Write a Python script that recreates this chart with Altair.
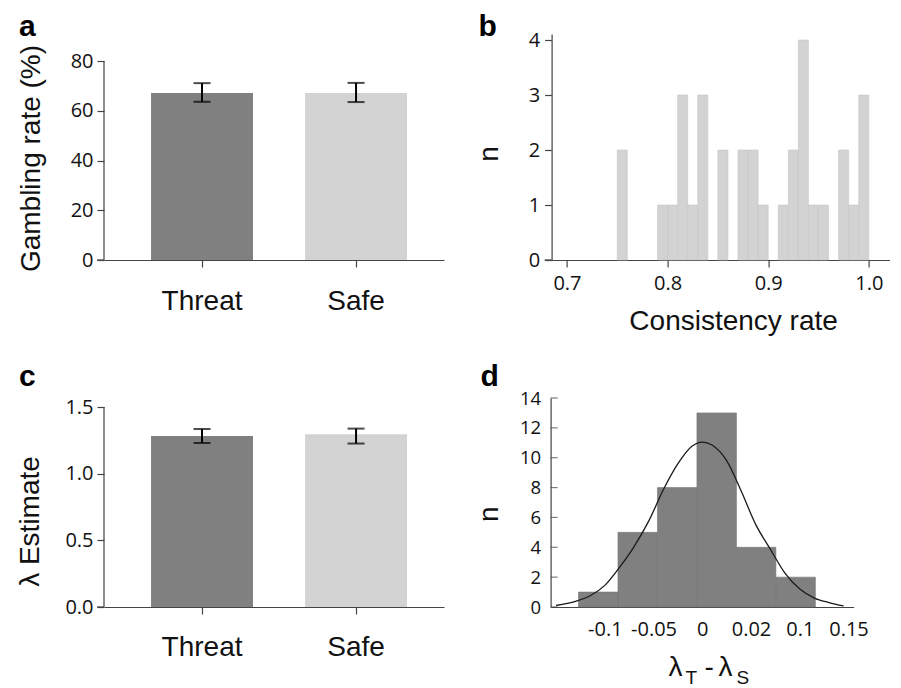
import altair as alt
import pandas as pd

# ---------------- data ----------------
CONDITIONS = ["Threat", "Safe"]
BAR_COLORS = ["#808080", "#d3d3d3"]

GAMBLE_MEAN = [67.1, 67.1]
GAMBLE_LOW = [63.6, 63.5]
GAMBLE_HIGH = [71.1, 71.2]
GAMBLE_TICKS = [0, 20, 40, 60, 80]

LAMBDA_MEAN = [1.283, 1.295]
LAMBDA_LOW = [1.230, 1.226]
LAMBDA_HIGH = [1.335, 1.338]
LAMBDA_TICKS = [0.0, 0.5, 1.0, 1.5]

CONS_BIN_START = [0.75, 0.79, 0.80, 0.81, 0.82, 0.83, 0.85, 0.87, 0.88,
                  0.89, 0.91, 0.92, 0.93, 0.94, 0.95, 0.97, 0.98, 0.99]
CONS_BIN_END = [0.76, 0.80, 0.81, 0.82, 0.83, 0.84, 0.86, 0.88, 0.89,
                0.90, 0.92, 0.93, 0.94, 0.95, 0.96, 0.98, 0.99, 1.00]
CONS_COUNT = [2, 1, 1, 3, 1, 3, 2, 2, 2, 1, 1, 2, 4, 1, 1, 2, 1, 3]
CONS_X_TICKS = [0.7, 0.8, 0.9, 1.0]
CONS_Y_TICKS = [0, 1, 2, 3, 4]

DIFF_BIN_START = [-0.127, -0.0865, -0.046, -0.0055, 0.035, 0.0755]
DIFF_BIN_END = [-0.0865, -0.046, -0.0055, 0.035, 0.0755, 0.116]
DIFF_COUNT = [1, 5, 8, 13, 4, 2]
CURVE_X = [-0.15, -0.13, -0.115, -0.10, -0.085, -0.07, -0.055, -0.04, -0.025,
           -0.01, 0.0, 0.01, 0.025, 0.04, 0.055, 0.07, 0.085, 0.10, 0.115,
           0.13, 0.145]
CURVE_N = [0.1, 0.38, 0.75, 1.45, 2.65, 4.05, 5.75, 7.85, 9.6, 10.8, 11.05,
           10.85, 9.8, 7.75, 5.5, 3.85, 2.25, 1.2, 0.6, 0.3, 0.07]
DIFF_X_TICKS = [-0.1, -0.05, 0.0, 0.05, 0.1, 0.15]
DIFF_X_LABELS = ["-0.1", "-0.05", "0", "0.02", "0.1", "0.15"]
DIFF_Y_TICKS = [0, 2, 4, 6, 8, 10, 12, 14]

PANEL_LABELS = ["a", "b", "c", "d"]

# ---------------- styling ----------------
FONT_TITLE = "Liberation Sans"
FONT_TICK = "Open Sans"
AX = "#444444"
INK = "#111111"


def panel_label(letter, x, y):
    return alt.Chart(pd.DataFrame({"t": [letter]})).mark_text(
        font=FONT_TITLE, fontSize=30, fontWeight="bold", align="left",
        baseline="alphabetic", color="black"
    ).encode(text="t:N", x=alt.value(x), y=alt.value(y))


def axis_stub(yscale):
    # short continuation of the x axis line under the y ticks
    return alt.Chart(pd.DataFrame({"z": [0]})).mark_rule(
        color=AX, strokeWidth=1.2).encode(
        x=alt.value(-7), x2=alt.value(0), y=alt.Y("z:Q", scale=yscale))


def bar_panel(means, lows, highs, ticks, dom_top, axis_top, fmt, title,
              title_x, title_y, letter, label_y, height, label_pad):
    df = pd.DataFrame({"condition": CONDITIONS, "mean": means,
                       "low": lows, "high": highs})
    base = alt.Chart(df)
    xscale = alt.Scale(domain=CONDITIONS, paddingInner=0.338,
                       paddingOuter=0.2727, align=0.56)
    yscale = alt.Scale(domain=[0, dom_top], nice=False, zero=True)
    xaxis = alt.Axis(title=None, labelAngle=0, labelFont=FONT_TITLE,
                     labelFontSize=28, labelPadding=label_pad, tickSize=7)
    yaxis = alt.Axis(values=ticks, domain=False, format=fmt,
                     title=title, titleX=title_x, titleY=title_y,
                     titleAngle=-90, titleAlign="center",
                     titleBaseline="alphabetic", labelPadding=4,
                     labelOverlap=False)
    xs = alt.X("condition:N", sort=CONDITIONS, scale=xscale, axis=xaxis)
    bars = base.mark_bar().encode(
        x=xs,
        y=alt.Y("mean:Q", scale=yscale, axis=yaxis),
        color=alt.Color("condition:N",
                        scale=alt.Scale(domain=CONDITIONS, range=BAR_COLORS),
                        legend=None),
    )
    err = base.mark_rule(color="black", strokeWidth=2).encode(
        x=xs, y=alt.Y("low:Q", scale=yscale, axis=yaxis), y2="high:Q")
    cap_lo = base.mark_tick(color="black", size=17, thickness=2,
                            orient="horizontal").encode(
        x=xs, y=alt.Y("low:Q", scale=yscale, axis=yaxis))
    cap_hi = base.mark_tick(color="black", size=17, thickness=2,
                            orient="horizontal").encode(
        x=xs, y=alt.Y("high:Q", scale=yscale, axis=yaxis))
    yline = alt.Chart(pd.DataFrame({"y0": [0], "y1": [axis_top]})).mark_rule(
        color=AX, strokeWidth=1.2).encode(
        x=alt.value(0), y=alt.Y("y0:Q", scale=yscale, axis=yaxis), y2="y1:Q")
    lab = panel_label(letter, -85, label_y)
    return alt.layer(bars, err, cap_lo, cap_hi, yline, axis_stub(yscale),
                     lab).properties(width=340, height=height)


# ---- panel a ----
A_HEIGHT = 226
panel_a = bar_panel(GAMBLE_MEAN, GAMBLE_LOW, GAMBLE_HIGH, GAMBLE_TICKS,
                    80 * A_HEIGHT / 199, 80, "d", "Gambling rate (%)", -65,
                    124, "a", 2, A_HEIGHT, 20)

# ---- panel c ----
C_HEIGHT = 209
panel_c = bar_panel(LAMBDA_MEAN, LAMBDA_LOW, LAMBDA_HIGH, LAMBDA_TICKS,
                    1.5 * C_HEIGHT / 200, 1.5, ".1f", "λ Estimate", -66, 123,
                    "c", -12.3, C_HEIGHT, 19)

# ---- panel b ----
dfb = pd.DataFrame({"start": CONS_BIN_START, "end": CONS_BIN_END,
                    "n": CONS_COUNT})
bscale_y = alt.Scale(domain=[0, A_HEIGHT / 55], nice=False)
hist_b = alt.Chart(dfb).mark_bar(color="#d3d3d3", stroke="#c6c6c6",
                                 strokeWidth=0.6, orient="vertical").encode(
    x=alt.X("start:Q", scale=alt.Scale(domain=[0.6897, 1.0157], nice=False,
                                       zero=False),
            axis=alt.Axis(values=CONS_X_TICKS, format=".1f",
                          title="Consistency rate", titleX=181.5, titleY=69,
                          titleBaseline="alphabetic", titleAlign="center",
                          labelPadding=6, labelFlush=False,
                          labelOverlap=False)),
    x2="end:Q",
    y=alt.Y("n:Q", scale=bscale_y,
            axis=alt.Axis(values=CONS_Y_TICKS, format="d", title="n",
                          titleX=-54, titleY=119.5, titleAngle=-90,
                          titleAlign="center", titleBaseline="alphabetic",
                          labelPadding=5, labelOverlap=False)),
    y2=alt.datum(0),
)
panel_b = alt.layer(hist_b, axis_stub(bscale_y),
                    panel_label("b", -73, 2.3)).properties(
    width=338, height=A_HEIGHT)

# ---- panel d ----
dfd = pd.DataFrame({"start": DIFF_BIN_START, "end": DIFF_BIN_END,
                    "n": DIFF_COUNT})
dscale_x = alt.Scale(domain=[-0.1505, 0.1501], nice=False, zero=False)
dscale_y = alt.Scale(domain=[0, 14], nice=False)

# label expression built from the tick lists
expr = "'" + DIFF_X_LABELS[-1] + "'"
for i in range(len(DIFF_X_TICKS) - 2, -1, -1):
    mid = (DIFF_X_TICKS[i] + DIFF_X_TICKS[i + 1]) / 2
    expr = f"datum.value < {mid} ? '{DIFF_X_LABELS[i]}' : ({expr})"

d_xaxis = alt.Axis(values=DIFF_X_TICKS, labelExpr=expr, ticks=False,
                   title=None, labelPadding=12, labelFlush=False,
                   labelOverlap=False)
d_yaxis = alt.Axis(values=DIFF_Y_TICKS, format="d", ticks=False,
                   title="n", titleX=-53, titleY=115.7, titleAngle=-90,
                   titleAlign="center", titleBaseline="alphabetic",
                   labelPadding=10, labelFontSize=18.5, labelOverlap=False,
                   labelFlush=False, labelSeparation=0)

hist_d = alt.Chart(dfd).mark_bar(color="#808080", stroke="#747474",
                                 strokeWidth=0.6, orient="vertical").encode(
    x=alt.X("start:Q", scale=dscale_x, axis=d_xaxis),
    x2="end:Q",
    y=alt.Y("n:Q", scale=dscale_y, axis=d_yaxis),
    y2=alt.datum(0),
)
curve_d = alt.Chart(pd.DataFrame({"x": CURVE_X, "n": CURVE_N})).mark_line(
    color="#1a1a1a", strokeWidth=1.3, interpolate="monotone").encode(
    x=alt.X("x:Q", scale=dscale_x, axis=d_xaxis),
    y=alt.Y("n:Q", scale=dscale_y, axis=d_yaxis))
yticks_d = alt.Chart(pd.DataFrame({"v": DIFF_Y_TICKS})).mark_tick(
    color=AX, size=7, thickness=1.2, orient="horizontal").encode(
    x=alt.value(3.5), y=alt.Y("v:Q", scale=dscale_y, axis=d_yaxis))


def piece(txt, x, y, size):
    return alt.Chart(pd.DataFrame({"t": [txt]})).mark_text(
        font=FONT_TITLE, fontSize=size, align="left", baseline="alphabetic",
        color=INK).encode(text="t:N", x=alt.value(x), y=alt.value(y))


xtitle_d = [piece("λ", 118, 277.7, 28), piece("T", 135, 285.7, 19),
            piece("-", 154, 277.7, 28), piece("λ", 168, 277.7, 28),
            piece("S", 186, 285.7, 19)]

panel_d = alt.layer(hist_d, curve_d, yticks_d, *xtitle_d,
                    panel_label("d", -70, -12.3)).properties(
    width=303, height=C_HEIGHT)

row1 = alt.hconcat(panel_a, panel_b, spacing=31.6)
row2 = alt.hconcat(panel_c, panel_d, spacing=31.6)

chart = alt.vconcat(row1, row2, spacing=26).configure(
    padding={"left": 7, "top": 4, "right": 0, "bottom": 0}
).configure_view(stroke=None).configure_axis(
    grid=False, domainColor=AX, tickColor=AX, domainWidth=1.2, tickWidth=1.2,
    tickSize=7, labelFont=FONT_TICK, labelFontSize=20, labelColor=INK,
    titleFont=FONT_TITLE, titleFontSize=28, titleColor=INK,
    titleFontWeight="normal"
)

chart.save("out.html", embed_options={"renderer": "svg", "actions": False})
